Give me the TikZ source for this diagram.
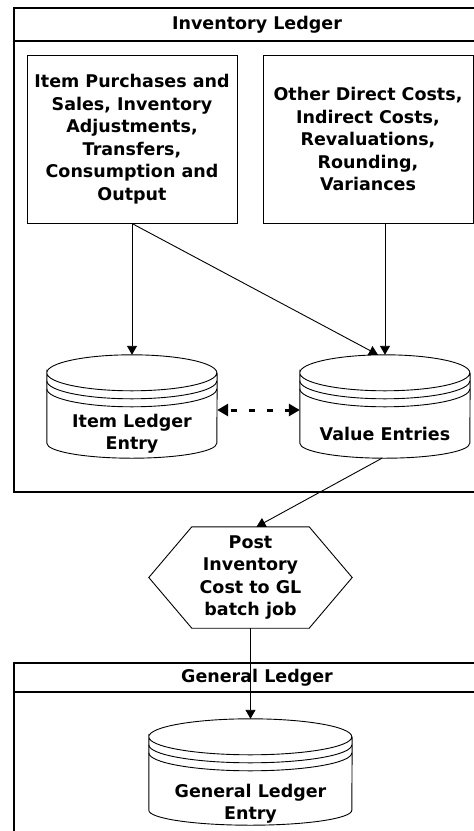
\documentclass[tikz,border=0pt]{standalone}
\usepackage{fontspec}
\setmainfont{DejaVu Sans}
\usetikzlibrary{arrows.meta}

\tikzset{
  txt/.style={font=\fontsize{17.5}{22.5}\selectfont\bfseries, align=center},
  srcbox/.style={draw, line width=1pt, minimum width=210pt, minimum height=168pt, inner sep=0pt, txt},
  dbase/.style={minimum width=#1, minimum height=103pt, inner sep=0pt},
  flow/.style={-{Triangle[length=9pt,width=10pt]}, line width=0.9pt},
  link/.style={{Triangle[length=11pt,width=12pt]}-{Triangle[length=11pt,width=12pt]}, line width=3pt, dash pattern=on 6pt off 12pt, dash phase=-3pt},
}

\begin{document}
\begin{tikzpicture}[x=1pt,y=-1pt]
  \useasboundingbox (0,0) rectangle (474,831);
  \clip (0,0) rectangle (474,831);

  % Inventory Ledger lane
  \draw[line width=1.2pt] (14,8) rectangle (500,492);
  \draw[line width=1.2pt] (14,41) -- (500,41);
  \node[txt] (invt) at (257,24.5) {Inventory Ledger};

  % Sources
  \node[srcbox] (items) at (132,139) {Item Purchases and\\Sales, Inventory\\Adjustments,\\Transfers,\\Consumption and\\Output};
  \node[srcbox] (other) at (368,139) {Other Direct Costs,\\Indirect Costs,\\Revaluations,\\Rounding,\\Variances};

  % Tables
  \node[dbase=170pt] (ile) at (132,406.5) {};
  \node[dbase=170pt] (ve) at (385,406.5) {};
  \node[dbase=203pt, minimum height=106pt] (gle) at (250.5,772) {};
  \foreach \n/\r in {ile/85pt, ve/85pt, gle/101.5pt}{
    \draw[line width=0.9pt] ([yshift=-18pt]\n.north west)
      arc[start angle=180, end angle=-180, x radius=\r, y radius=18pt]
      -- ([yshift=15pt]\n.south west)
      arc[start angle=180, end angle=360, x radius=\r, y radius=15pt]
      -- ([yshift=-18pt]\n.north east);
    \draw[line width=0.9pt] ([yshift=-26pt]\n.north west)
      arc[start angle=180, end angle=360, x radius=\r, y radius=18pt];
    \draw[line width=0.9pt] ([yshift=-34pt]\n.north west)
      arc[start angle=180, end angle=360, x radius=\r, y radius=18pt];
  }
  \node[txt] (ile-t) at ([yshift=-27pt]ile.center) {Item Ledger\\Entry};
  \node[txt] (ve-t) at ([yshift=-27.5pt]ve.center) {Value Entries};

  % Batch job
  \node[txt, minimum width=203pt, minimum height=101pt, inner sep=0pt] (post) at (250.5,577.5) {Post\\Inventory\\Cost to GL\\batch job};
  \draw[line width=0.9pt] ([xshift=43pt]post.north west) -- ([xshift=-43pt]post.north east)
    -- (post.east) -- ([xshift=-43pt]post.south east)
    -- ([xshift=43pt]post.south west) -- (post.west) -- cycle;

  % General Ledger lane
  \draw[line width=1.2pt] (14,663) rectangle (500,900);
  \draw[line width=1.2pt] (14,692) -- (500,692);
  \node[txt] (glt) at (257,677.5) {General Ledger};
  \node[txt] (gle-t) at ([yshift=-31.5pt]gle.center) {General Ledger\\Entry};

  % Flows
  \draw[flow] (items.south) -- (ile.north);
  \draw[flow] (ve.north |- other.south) -- (ve.north);
  \draw[flow] (items.south) -- ([xshift=-7pt]ve.north);
  \draw[link] ([yshift=-3.5pt]ile.east) -- ([yshift=-3.5pt]ve.west);
  \draw[flow] ([xshift=-3pt]ve.south) -- ([xshift=6pt]post.north);
  \draw[flow] (post.south) -- (gle.north);
\end{tikzpicture}
\end{document}
